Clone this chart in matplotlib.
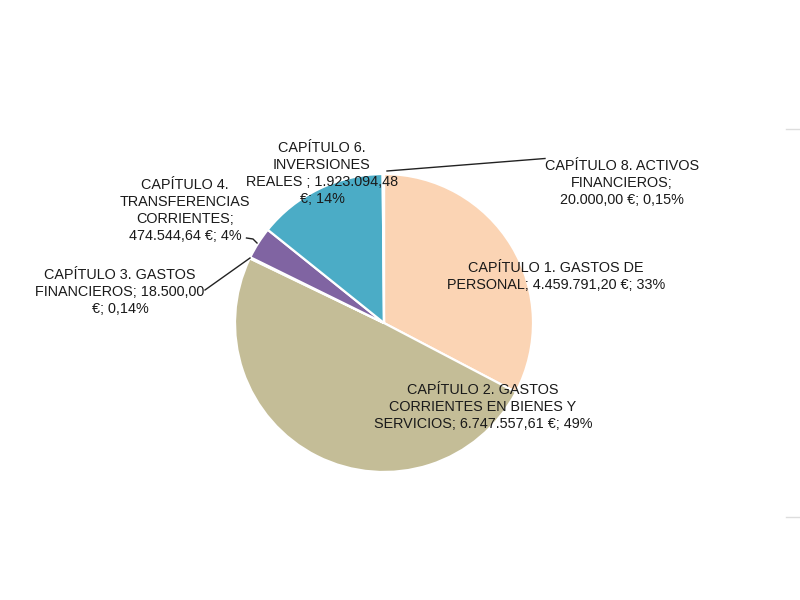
import matplotlib
matplotlib.use("Agg")
import matplotlib.pyplot as plt

# datos del presupuesto por capitulos
capitulos = ["CAPÍTULO 1. GASTOS DE\nPERSONAL; 4.459.791,20 €; 33%",
             "CAPÍTULO 2. GASTOS\nCORRIENTES EN BIENES Y\nSERVICIOS; 6.747.557,61 €; 49%",
             "CAPÍTULO 3. GASTOS\nFINANCIEROS; 18.500,00\n€; 0,14%",
             "CAPÍTULO 4.\nTRANSFERENCIAS\nCORRIENTES;\n474.544,64 €; 4%",
             "CAPÍTULO 6.\nINVERSIONES\nREALES ; 1.923.094,48\n€; 14%",
             "CAPÍTULO 8. ACTIVOS\nFINANCIEROS;\n20.000,00 €; 0,15%"]
importes = [4459791.20, 6747557.61, 18500.00, 474544.64, 1923094.48, 20000.00]
colores = ["#FBD4B4", "#C4BD97", "#C0504D", "#8064A2", "#4BACC6", "#9BBB59"]

plt.rcParams['font.family'] = ['Liberation Sans', 'DejaVu Sans']

fig = plt.figure(figsize=(8, 6), dpi=100)
ax = fig.add_axes([0, 0, 1, 1])

cx, cy, r = 384, 277, 149
ax.pie(importes, colors=colores, startangle=90, counterclock=False,
       center=(cx, cy), radius=r, frame=True,
       wedgeprops=dict(edgecolor='white', linewidth=1.6))
ax.set_xlim(0, 800)
ax.set_ylim(0, 600)
ax.set_aspect('equal')
ax.axis('off')

# posiciones de las etiquetas (centro del bloque de texto, pixeles)
pos_etiquetas = [(556, 323.5), (483, 193), (120, 308), (185, 389.5), (322, 426.5), (622, 417)]
for texto, (x, y) in zip(capitulos, pos_etiquetas):
    ax.text(x, y, texto, ha='center', va='center', fontsize=10.4,
            color='#1a1a1a', linespacing=1.28)

# lineas guia
ax.plot([387, 545], [429, 441.5], color='#222222', lw=1.0)
ax.plot([246.5, 253, 257], [362, 361, 357], color='#222222', lw=1.0)
ax.plot([250, 205], [342, 310], color='#222222', lw=1.0)

# restos del borde del grafico a la derecha
ax.plot([786, 800], [471, 471], color='#dddddd', lw=1)
ax.plot([786, 800], [83, 83], color='#dddddd', lw=1)

fig.savefig("out.png", dpi=100)
